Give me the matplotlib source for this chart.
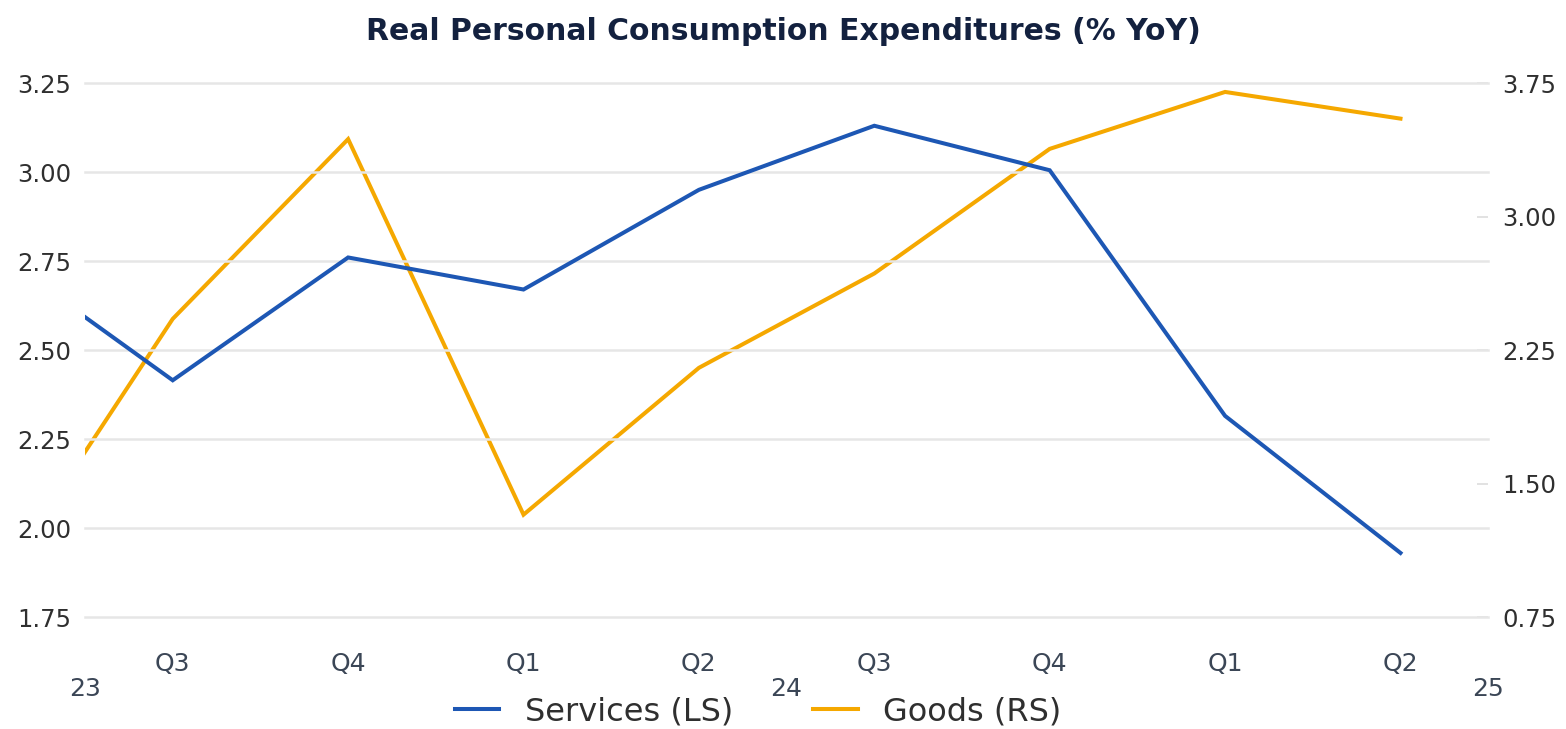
"""
Real PCE, services vs goods, % YoY (two axes)
"""

import matplotlib
matplotlib.use("Agg")
import matplotlib.pyplot as plt
import matplotlib.transforms as mtransforms
import numpy as np

plt.rcParams['font.family'] = ['DejaVu Sans']

# quarters Q2 2023 .. Q2 2025 (Q2 2023 is clipped at the left edge)
quarters = ['Q2', 'Q3', 'Q4', 'Q1', 'Q2', 'Q3', 'Q4', 'Q1', 'Q2']
years = ['23', '24', '25']

services = [2.77, 2.415, 2.76, 2.67, 2.95, 3.13, 3.005, 2.315, 1.93]   # left scale
goods = [0.93, 2.425, 3.435, 1.325, 2.15, 2.68, 3.38, 3.70, 3.55]      # right scale

left_ticks = [1.75, 2.00, 2.25, 2.50, 2.75, 3.00, 3.25]
right_ticks = [0.75, 1.50, 2.25, 3.00, 3.75]

blue = '#1d57b4'
orange = '#f5a800'
text_col = '#2f2f2f'
axis_text = '#3b4656'

x = np.arange(len(quarters)) - 1   # Q3 2023 at 0

fig = plt.figure(figsize=(15.66, 7.29), dpi=100)
ax = fig.add_axes([0.0543, 0.1536, 0.8960, 0.7325])
ax2 = ax.twinx()

ax.plot(x, services, color=blue, lw=2.9, label='Services (LS)', solid_joinstyle='miter')
ax2.plot(x, goods, color=orange, lw=2.9, label='Goods (RS)', solid_joinstyle='miter')

ax.set_xlim(-0.5, len(quarters) - 1.5)
ax.set_ylim(left_ticks[0], left_ticks[-1])
ax2.set_ylim(right_ticks[0], right_ticks[-1])

ax.set_yticks(left_ticks)
ax.set_yticklabels([f"{v:.2f}" for v in left_ticks])
ax2.set_yticks(right_ticks)
ax2.set_yticklabels([f"{v:.2f}" for v in right_ticks])

ax.grid(axis='y', color='#e6e6e6', lw=1.8)
for gl in ax.get_ygridlines():
    gl.set_clip_on(False)
ax.set_axisbelow(True)
ax.set_zorder(ax2.get_zorder() + 1)
ax.patch.set_visible(False)

for a in (ax, ax2):
    for s in a.spines.values():
        s.set_visible(False)

ax.tick_params(axis='y', length=0, labelsize=17.5, labelcolor=text_col)
for lbl in ax.get_yticklabels():
    lbl.set_horizontalalignment('left')
    lbl.set_x(-0.0448)
ax2.tick_params(axis='y', direction='in', length=8, width=1.2, color='#dddddd',
                labelsize=17.5, labelcolor=text_col, pad=10)

ax.set_xticks(x[1:])
ax.set_xticklabels(quarters[1:])
ax.tick_params(axis='x', length=0, labelsize=18, labelcolor=axis_text, pad=25)

# year labels sit on the year boundaries
trans = mtransforms.blended_transform_factory(ax.transData, fig.transFigure)
for i, yr in enumerate(years):
    ax.text(-0.5 + 4 * i, 1 - 689 / 729, yr, transform=trans, ha='center', va='center',
            fontsize=18, color=axis_text)

h1, l1 = ax.get_legend_handles_labels()
h2, l2 = ax2.get_legend_handles_labels()
fig.legend(h1 + h2, l1 + l2, loc='center', bbox_to_anchor=(758 / 1566, 1 - 712 / 729),
           ncol=2, frameon=False, fontsize=23, handlelength=1.4, columnspacing=2.5,
           handletextpad=0.8, labelcolor=text_col, borderpad=0)

fig.text(0.5, 1 - 31 / 729, 'Real Personal Consumption Expenditures (% YoY)',
         ha='center', va='center', fontsize=21.5, fontweight='bold', color='#13213f')

fig.savefig('out.png', dpi=100)
